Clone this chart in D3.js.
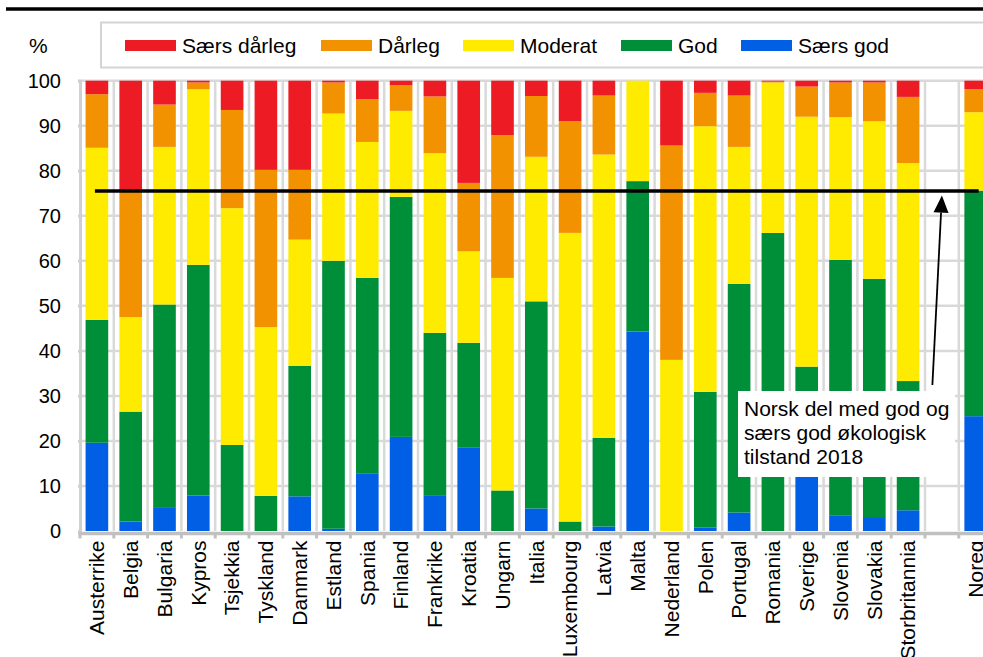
<!DOCTYPE html>
<html>
<head>
<meta charset="utf-8">
<script src="https://cdn.jsdelivr.net/npm/d3@7"></script>
<style>
  html, body { margin: 0; padding: 0; background: #fff; }
  svg { display: block; font-family: "Liberation Sans", Arial, sans-serif; }
</style>
</head>
<body>
<svg id="chart" width="983" height="657"></svg>
<script>
// ---- data ----
const categories = ["Austerrike","Belgia","Bulgaria","Kypros","Tsjekkia","Tyskland","Danmark","Estland","Spania","Finland","Frankrike","Kroatia","Ungarn","Italia","Luxembourg","Latvia","Malta","Nederland","Polen","Portugal","Romania","Sverige","Slovenia","Slovakia","Storbritannia"," ","Noreg"];
const seriesNames = ["Særs god","God","Moderat","Dårleg","Særs dårleg"];
const legendOrder = ["Særs dårleg","Dårleg","Moderat","God","Særs god"];
const seriesColors = ["#005fe5","#008f39","#ffeb00","#f39200","#ed1c24"];
const saersGod  = [19.6, 2.1, 5.3, 7.9, 0,   0,   7.7, 0.5, 12.7,20.9, 7.8, 18.6, 0,   5.0, 0,   1.0, 44.3, 0,   0.8, 4.1, 0,   14.0, 3.5, 3.1, 4.6, 0, 25.5];
const god       = [27.3, 24.4,45.0,51.2,19.1,7.8, 29.0,59.5,43.5,53.3,36.2, 23.2, 9.0, 46.0,2.1, 19.7,33.4, 0,   30.1,50.8,66.2,22.5, 56.7,52.9,28.7, 0, 50.1];
const moderat   = [38.2, 21.0,35.0,39.0,52.6,37.5,28.0,32.7,30.2,19.1,39.9, 20.3, 47.2,32.1,64.1,62.9,22.3, 38.0,59.0,30.4,33.4,55.5, 31.7,35.0,48.4, 0, 17.4];
const daarleg   = [11.9, 28.0,9.4, 1.5, 21.8,34.9,15.5,6.9, 9.5, 5.7, 12.6, 15.2, 31.7,13.5,24.8,13.1,0,    47.6,7.4, 11.4,0.2, 6.7,  7.7, 8.6, 14.7, 0, 5.1];
const saersDaarleg = [3.0,24.5,5.3, 0.4, 6.5, 19.8,19.8,0.4, 4.1, 1.0, 3.5,  22.7, 12.1,3.4, 9.0, 3.3, 0,    14.4,2.7, 3.3, 0.2, 1.3,  0.4, 0.4, 3.6,  0, 1.9];
const yTicks = [0,10,20,30,40,50,60,70,80,90,100];
const noregRef = 75.5;
const annotationLines = ["Norsk del med god og","særs god økologisk","tilstand 2018"];

// ---- build table ----
const seriesValues = [saersGod, god, moderat, daarleg, saersDaarleg];
const table = categories.map((c, i) => {
  const row = { cat: c };
  seriesNames.forEach((s, k) => row[s] = seriesValues[k][i]);
  return row;
});
const color = d3.scaleOrdinal().domain(seriesNames).range(seriesColors);

const svg = d3.select("#chart");
svg.append("rect").attr("width", 983).attr("height", 657).attr("fill", "#fff");

const pL = 80, pT = 80.7, pB = 531, pR = 992.6;
const x = d3.scaleBand().domain(categories).range([pL, pR]).paddingInner(0.33).paddingOuter(0.165);
const y = d3.scaleLinear().domain([0, 100]).range([pB, pT]);
const step = x.step();

// title rule
svg.append("line").attr("x1", 6).attr("x2", 983).attr("y1", 9).attr("y2", 9)
  .attr("stroke", "#000").attr("stroke-width", 3.3);

// gridlines
const grid = svg.append("g");
grid.selectAll("line.h").data(yTicks.filter(d => d > 0)).join("line")
  .attr("x1", pL - 2).attr("x2", pR)
  .attr("y1", d => y(d)).attr("y2", d => y(d))
  .attr("stroke", "#d9d9d9").attr("stroke-width", 2.5);
grid.selectAll("line.v").data(d3.range(1, categories.length + 1)).join("line")
  .attr("x1", i => pL + i * step).attr("x2", i => pL + i * step)
  .attr("y1", pT).attr("y2", pB)
  .attr("stroke", "#d9d9d9").attr("stroke-width", 2.5);

// stacked bars
const stack = d3.stack().keys(seriesNames)(table);
svg.append("g").selectAll("g").data(stack).join("g")
  .attr("fill", d => color(d.key))
  .selectAll("rect").data(d => d).join("rect")
  .attr("x", d => x(d.data.cat))
  .attr("width", x.bandwidth())
  .attr("y", d => y(d[1]))
  .attr("height", d => Math.max(0, y(d[0]) - y(d[1])));

// y axis
const yAxis = svg.append("g").attr("transform", `translate(${pL},0)`)
  .call(d3.axisLeft(y).tickValues(yTicks).tickSize(2).tickPadding(17));
yAxis.select(".domain").attr("stroke", "#d0d0d0").attr("stroke-width", 3);
yAxis.selectAll(".tick line").attr("stroke", "#d0d0d0").attr("stroke-width", 2.5);
yAxis.selectAll(".tick text").attr("font-size", 20).attr("fill", "#000")
  .attr("font-family", "Liberation Sans, Arial, sans-serif");

// x axis
const xAxisG = svg.append("g").attr("transform", `translate(0,${pB + 2.5})`);
xAxisG.append("line").attr("x1", pL - 1.5).attr("x2", pR)
  .attr("stroke", "#c0c0c0").attr("stroke-width", 3.5);
xAxisG.selectAll("line.t").data(d3.range(0, categories.length + 1)).join("line")
  .attr("x1", i => pL + i * step).attr("x2", i => pL + i * step)
  .attr("y1", 0).attr("y2", 5)
  .attr("stroke", "#c0c0c0").attr("stroke-width", 3);
xAxisG.selectAll("text").data(categories).join("text")
  .attr("transform", d => `translate(${x(d) + x.bandwidth() / 2},7) rotate(-90)`)
  .attr("text-anchor", "end").attr("dy", "0.35em")
  .attr("font-size", 21).attr("fill", "#000")
  .text(d => d.trim());

// reference line
svg.append("line")
  .attr("x1", x(categories[0]) + x.bandwidth() / 2 - 2)
  .attr("x2", x("Noreg") + x.bandwidth() * 0.63)
  .attr("y1", y(noregRef)).attr("y2", y(noregRef))
  .attr("stroke", "#000").attr("stroke-width", 3.5);

// annotation box
const ann = svg.append("g");
ann.append("rect").attr("x", 738).attr("y", 391).attr("width", 217).attr("height", 86).attr("fill", "#fff");
ann.selectAll("text").data(annotationLines).join("text")
  .attr("x", 744).attr("y", (d, i) => 416 + i * 24)
  .attr("font-size", 21).attr("fill", "#000").text(d => d);

// arrow
const tipX = x(" ") + x.bandwidth() / 2, tipY = y(noregRef) + 4.5;
const baseX = tipX - 9.5, baseY = 385;
const ang = Math.atan2(tipY - baseY, tipX - baseX);
const headLen = 17, headHalf = 7.5;
const hx = tipX - headLen * Math.cos(ang), hy = tipY - headLen * Math.sin(ang);
ann.append("line").attr("x1", baseX).attr("y1", baseY).attr("x2", hx).attr("y2", hy)
  .attr("stroke", "#000").attr("stroke-width", 1.8);
ann.append("path")
  .attr("d", `M${tipX},${tipY} L${hx + headHalf * Math.sin(ang)},${hy - headHalf * Math.cos(ang)} L${hx - headHalf * Math.sin(ang)},${hy + headHalf * Math.cos(ang)} Z`)
  .attr("fill", "#000");

// legend
const lg = svg.append("g");
lg.append("rect").attr("x", 101).attr("y", 22.5).attr("width", 900).attr("height", 45)
  .attr("fill", "#fff").attr("stroke", "#d4d4d4").attr("stroke-width", 2);
svg.append("text").attr("x", 29).attr("y", 53).attr("font-size", 21).attr("fill", "#000").text("%");
const legendX = [125, 321, 463, 621, 741];
const items = lg.selectAll("g.item").data(legendOrder).join("g")
  .attr("transform", (d, i) => `translate(${legendX[i]},0)`);
items.append("rect").attr("x", 0).attr("y", 40).attr("width", 51).attr("height", 11)
  .attr("fill", d => color(d));
items.append("text").attr("x", 57).attr("y", 53).attr("font-size", 21).attr("fill", "#000").text(d => d);
</script>
</body>
</html>
